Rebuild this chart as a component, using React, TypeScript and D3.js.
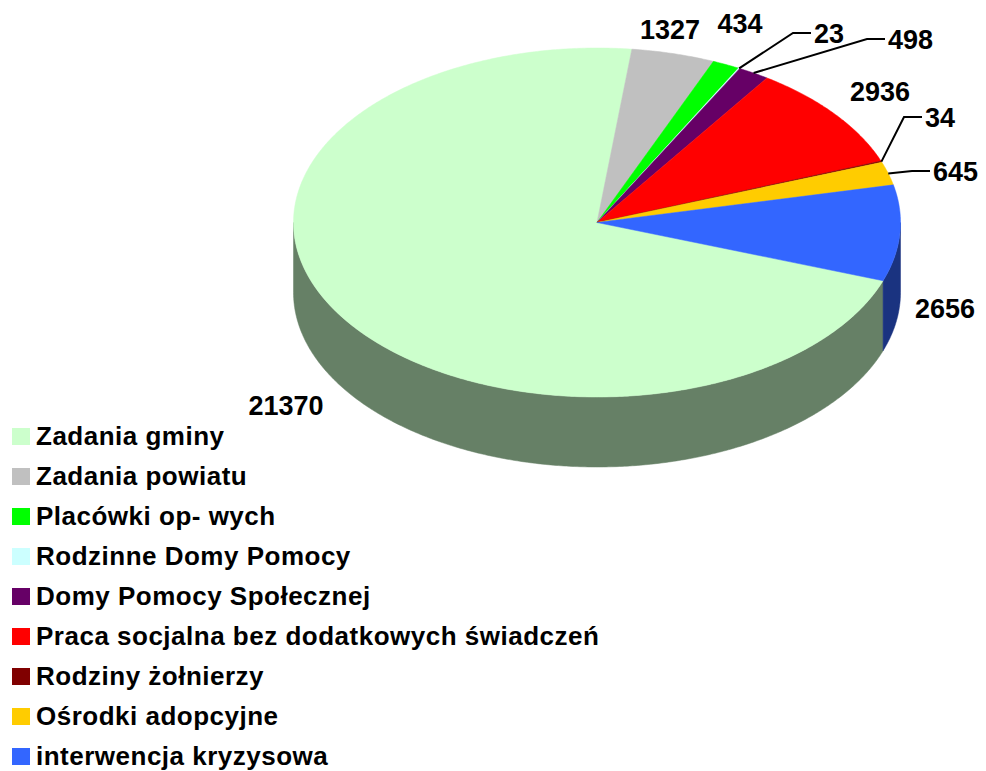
import { useEffect, useRef } from 'react';
import * as d3 from 'd3';

const categories = [
  'Zadania gminy',
  'Zadania powiatu',
  'Placówki op- wych',
  'Rodzinne Domy Pomocy',
  'Domy Pomocy Społecznej',
  'Praca socjalna bez dodatkowych świadczeń',
  'Rodziny żołnierzy',
  'Ośrodki adopcyjne',
  'interwencja kryzysowa',
];
const values = [21370, 1327, 434, 23, 498, 2936, 34, 645, 2656];
const colors = ['#CCFFCC', '#C0C0C0', '#00FF00', '#CCFFFF', '#660066', '#FF0000', '#800000', '#FFCC00', '#3366FF'];

// label layout: text centre x and baseline (null = uses a leader line)
const labelLayout: ({ x: number; y: number } | null)[] = [
  { x: 286, y: 415 },
  { x: 670, y: 39 },
  { x: 740, y: 33 },
  null,
  null,
  { x: 880, y: 101 },
  null,
  null,
  { x: 945, y: 318 },
];
// leader line elbows
const leaderLayout: ({ x: number; y: number } | null)[] = [
  null, null, null,
  { x: 793, y: 33 },
  { x: 867, y: 39 },
  null,
  { x: 904, y: 117 },
  { x: 912, y: 171 },
  null,
];

const WIDTH = 986;
const HEIGHT = 771;

export default function App() {
  const svgRef = useRef<SVGSVGElement>(null);

  useEffect(() => {
    document.body.style.margin = '0';
    if (!svgRef.current) return;
    const svg = d3.select(svgRef.current);
    svg.selectAll('*').remove();

    const cx = 597;
    const cy = 222.5;
    const rx = 303.5;
    const ry = 174.5;
    const depth = 70;
    const font = '"Liberation Sans", Arial, sans-serif';

    const rad = (deg: number) => (deg * Math.PI) / 180;
    const start = rad(109.5);

    const pie = d3
      .pie<number>()
      .sort(null)
      .startAngle(start)
      .endAngle(start + 2 * Math.PI);
    const arcs = pie(values);

    const px = (t: number) => cx + rx * Math.sin(t);
    const py = (t: number) => cy - ry * Math.cos(t);

    const sample = (a0: number, a1: number) => {
      const n = Math.max(2, Math.ceil(((a1 - a0) * 180) / Math.PI) * 2);
      return d3.range(n + 1).map((i) => a0 + ((a1 - a0) * i) / n);
    };

    const g = svg.append('g');

    // sides (front half only)
    arcs.forEach((a, i) => {
      const ranges = [
        [Math.PI / 2, (3 * Math.PI) / 2],
        [Math.PI / 2 + 2 * Math.PI, (3 * Math.PI) / 2 + 2 * Math.PI],
      ];
      ranges.forEach(([r0, r1]) => {
        const s = Math.max(a.startAngle, r0);
        const e = Math.min(a.endAngle, r1);
        if (e <= s) return;
        const ts = sample(s, e);
        const top = ts.map((t) => [px(t), py(t)] as [number, number]);
        const bot = ts
          .slice()
          .reverse()
          .map((t) => [px(t), py(t) + depth] as [number, number]);
        const c = d3.rgb(colors[i]);
        const dark = d3.rgb(c.r * 0.5, c.g * 0.5, c.b * 0.5).formatHex();
        g.append('path')
          .attr('d', d3.line()([...top, ...bot]) + 'Z')
          .attr('fill', dark)
          .attr('stroke', dark)
          .attr('stroke-width', 0.5);
      });
    });

    // top faces
    arcs.forEach((a, i) => {
      const pts = sample(a.startAngle, a.endAngle).map((t) => [px(t), py(t)] as [number, number]);
      g.append('path')
        .attr('d', d3.line()([[cx, cy], ...pts]) + 'Z')
        .attr('fill', colors[i])
        .attr('stroke', colors[i])
        .attr('stroke-width', 0.5);
    });

    // data labels
    arcs.forEach((a, i) => {
      const lab = labelLayout[i];
      if (lab) {
        g.append('text')
          .attr('x', lab.x)
          .attr('y', lab.y)
          .attr('text-anchor', 'middle')
          .attr('font-family', font)
          .attr('font-weight', 'bold')
          .attr('font-size', 27)
          .attr('fill', '#000')
          .text(values[i]);
      }
      const ld = leaderLayout[i];
      if (ld) {
        const mid = (a.startAngle + a.endAngle) / 2;
        g.append('path')
          .attr(
            'd',
            d3.line()([
              [px(mid), py(mid)],
              [ld.x, ld.y],
              [ld.x + 18, ld.y],
            ])
          )
          .attr('fill', 'none')
          .attr('stroke', '#000')
          .attr('stroke-width', 2);
        g.append('text')
          .attr('x', ld.x + 21)
          .attr('y', ld.y + 10)
          .attr('font-family', font)
          .attr('font-weight', 'bold')
          .attr('font-size', 27)
          .attr('fill', '#000')
          .text(values[i]);
      }
    });

    // legend
    const legend = svg.append('g').attr('transform', 'translate(12,428)');
    const yLeg = d3
      .scalePoint<string>()
      .domain(categories)
      .range([0, 40 * (categories.length - 1)]);
    categories.forEach((c, i) => {
      const row = legend.append('g').attr('transform', `translate(0,${yLeg(c)})`);
      row.append('rect').attr('width', 18).attr('height', 17).attr('fill', colors[i]);
      row
        .append('text')
        .attr('x', 24)
        .attr('y', 17)
        .attr('font-family', font)
        .attr('font-weight', 'bold')
        .attr('font-size', 26)
        .attr('letter-spacing', 0.5)
        .attr('fill', '#000')
        .text(c);
    });
  }, []);

  return <svg ref={svgRef} width={WIDTH} height={HEIGHT} style={{ display: 'block' }} />;
}
